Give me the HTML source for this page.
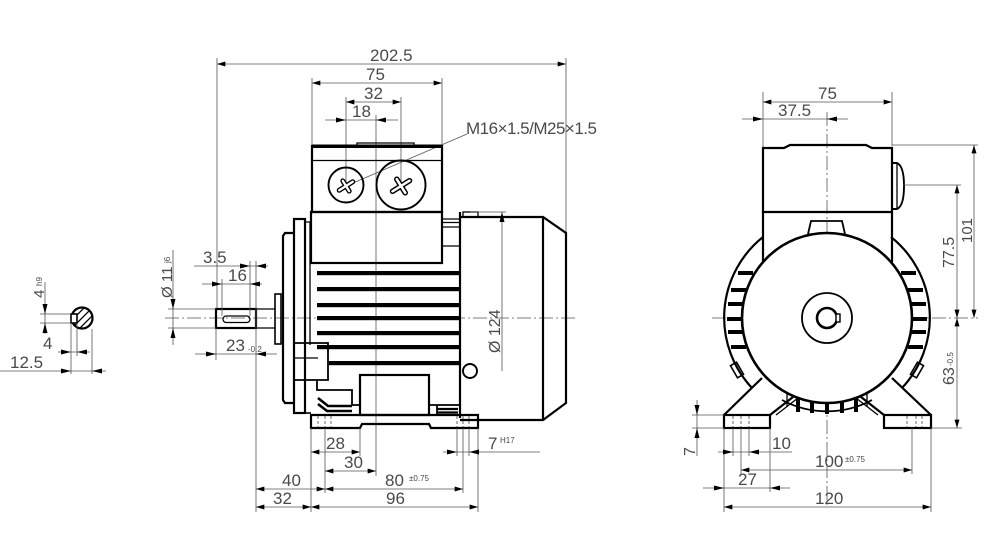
<!DOCTYPE html>
<html>
<head>
<meta charset="utf-8">
<style>
html,body{margin:0;padding:0;background:#fff;}
svg{display:block;}
.o{stroke:#000;stroke-width:2.2;fill:none;stroke-linejoin:miter;}
.ow{stroke:#000;stroke-width:2.2;fill:#fff;}
.t{stroke:#000;stroke-width:1.3;fill:none;}
.d{stroke:#555;stroke-width:0.8;fill:none;}
.c{stroke:#555;stroke-width:0.8;fill:none;stroke-dasharray:14 3 2 3;}
.h{stroke:#444;stroke-width:0.8;fill:none;stroke-dasharray:3 2;}
text{font-family:"Liberation Sans",sans-serif;font-size:17px;fill:#4a4a4a;}
.s{font-size:8px;}
.ar{fill:#000;stroke:none;}
.fin{fill:#000;stroke:none;}
</style>
</head>
<body>
<svg width="999" height="549" viewBox="0 0 999 549" xmlns="http://www.w3.org/2000/svg">
<defs>
<marker id="a" viewBox="0 0 10 6" refX="10" refY="3" markerWidth="10" markerHeight="5" markerUnits="userSpaceOnUse" orient="auto-start-reverse"><path d="M0,0 L10,3 L0,6z" fill="#000"/></marker>
<clipPath id="cc"><circle cx="82" cy="318" r="10"/></clipPath>
</defs>

<!-- ============ LEFT SECTION VIEW ============ -->
<g clip-path="url(#cc)">
<path class="t" d="M70,330 L94,306 M74,334 L98,310 M66,326 L90,302 M78,338 L102,314"/>
</g>
<circle class="o" cx="82" cy="318" r="10.5"/>
<rect x="71" y="314" width="6" height="9" fill="#fff" stroke="#000" stroke-width="1.6"/>
<path class="d" d="M40,314 H71 M40,323 H71 M45,282 V334"/>
<polygon class="ar" points="45,314 42.5,304 47.5,304"/>
<polygon class="ar" points="45,323 42.5,333 47.5,333"/>
<text transform="translate(44,298) rotate(-90)" style="font-size:15px">4</text>
<text transform="translate(42,286) rotate(-90)" class="s">h9</text>
<path class="d" d="M71,323 V374 M77,323 V356 M92,329 V374"/>
<path class="d" d="M58,352 H90"/>
<polygon class="ar" points="71,352 61,349.5 61,354.5"/>
<polygon class="ar" points="77,352 87,349.5 87,354.5"/>
<text x="43" y="349">4</text>
<path class="d" d="M0,371 H106"/>
<polygon class="ar" points="71,371 61,368.5 61,373.5"/>
<polygon class="ar" points="92,371 102,368.5 102,373.5"/>
<text x="10" y="368">12.5</text>

<!-- ============ CENTER VIEW ============ -->
<!-- centerlines -->
<path class="c" d="M165,318 H578"/>
<path class="d" d="M376,115 V476"/>

<!-- top dims -->
<path class="d" d="M217,64 H566" marker-start="url(#a)" marker-end="url(#a)"/>
<text x="370" y="61">202.5</text>
<path class="d" d="M217,58 V309 M566,58 V233"/>
<path class="d" d="M312,83 H442" marker-start="url(#a)" marker-end="url(#a)"/>
<text x="366" y="80">75</text>
<path class="d" d="M312,78 V145 M442,78 V145"/>
<path class="d" d="M346,102 H401" marker-start="url(#a)" marker-end="url(#a)"/>
<text x="364" y="99">32</text>
<path class="d" d="M346,97 V185 M401,97 V185"/>
<path class="d" d="M325,120 H398"/>
<polygon class="ar" points="346,120 336,117.5 336,122.5"/>
<polygon class="ar" points="376,120 386,117.5 386,122.5"/>
<text x="352" y="117">18</text>
<text x="466" y="134" textLength="131">M16×1.5/M25×1.5</text>
<path class="d" d="M467,134 L346,186"/>

<!-- terminal box -->
<rect class="o" x="312" y="146" width="130" height="66"/>
<rect x="312" y="144.5" width="130" height="3.5" fill="#000"/>
<path class="t" d="M357,145 V143 H414 V145"/>
<path class="t" d="M312,160.5 H442"/>
<rect class="o" x="311" y="212" width="131" height="51"/>
<circle class="o" cx="346" cy="185" r="17.5" style="stroke-width:1.9"/>
<circle class="o" cx="401" cy="185" r="24.5" style="stroke-width:1.9"/>
<g transform="translate(346,186) rotate(-32)">
<path d="M-8,0 H8 M0,-6 V6" stroke="#000" stroke-width="5" stroke-linecap="round" fill="none"/>
<path d="M-8,0 H8 M0,-6 V6" stroke="#fff" stroke-width="2.3" stroke-linecap="round" fill="none"/>
</g>
<g transform="translate(401,186) rotate(-32)">
<path d="M-10,0 H10 M0,-8 V8" stroke="#000" stroke-width="5.5" stroke-linecap="round" fill="none"/>
<path d="M-10,0 H10 M0,-8 V8" stroke="#fff" stroke-width="2.6" stroke-linecap="round" fill="none"/>
</g>
<path class="t" d="M442,219 H460 M442,222.5 H460 M442,227 H460 M442,246 H460"/>

<!-- flange -->
<path class="o" d="M294,233 H285 L283,236 V400 L285,403 H294"/>
<rect class="o" x="294" y="219" width="11" height="194"/>
<path class="t" d="M305,222 H310 V345"/>
<!-- shaft -->
<rect class="o" x="216" y="309" width="40" height="19"/>
<rect class="t" x="223" y="316" width="27" height="6.5" rx="3.2"/>
<path class="t" d="M256,309 H275 M256,328 H275"/>
<rect class="t" x="275" y="294" width="6" height="50" style="stroke-width:1.6"/>

<!-- fins -->
<rect class="fin" x="317" y="271" width="143" height="4.2"/>
<rect class="fin" x="317" y="287" width="143" height="4.2"/>
<rect class="fin" x="317" y="303" width="143" height="4.2"/>
<rect class="fin" x="317" y="316" width="143" height="4.2"/>
<rect class="fin" x="317" y="331" width="143" height="4.2"/>
<rect class="fin" x="317" y="345" width="143" height="4.2"/>
<rect class="fin" x="329" y="361" width="131" height="4.2"/>
<!-- lower left bracket -->
<path class="o" d="M295,343 H328 V380 H295" style="stroke-width:1.8"/>
<path class="t" d="M295,358 H318"/>
<path class="o" d="M317,380 V390 H352 V405 H360" style="stroke-width:1.8"/>
<path d="M318,398 L328,406 H352 M318,404 L327,411 H352" stroke="#000" stroke-width="2.6" fill="none"/>
<path class="o" d="M305,413 H311" style="stroke-width:1.6"/>
<!-- foot block -->
<rect class="o" x="360" y="375" width="69" height="40"/>
<path class="o" d="M429,405 H437 V415 M437,405 H460" style="stroke-width:1.8"/>
<path d="M437,409 H458 M437,412.5 H458" stroke="#000" stroke-width="2.2"/>
<!-- base plate -->
<path class="o" d="M311,415 H478 V428 H431 L429,424 H362 L360,428 H311 Z"/>
<path class="h" d="M318,416 V427 M325,416 V427 M331,416 V427 M457,416 V427 M463,416 V427 M469,416 V427"/>
<path class="d" d="M478,420 H545"/>

<!-- frame right edge & end cap -->
<path class="o" d="M460,212 V418"/>
<path class="o" d="M460,217 H543 L566,233 V403 L543,420 H460"/>
<path class="o" d="M543,217 V420"/>
<rect class="t" x="463" y="212" width="15" height="5"/>
<circle class="o" cx="470" cy="371" r="7" style="stroke-width:1.9"/>
<!-- Ø124 -->
<path class="d" d="M470,212 H506 M502,212 V371"/>
<polygon class="ar" points="502,212 499.5,222 504.5,222"/>
<text transform="translate(500,353) rotate(-90)" style="font-size:16px">Ø 124</text>

<!-- shaft dims -->
<path class="d" d="M168,309 H216 M168,328 H216 M173,250 V345"/>
<polygon class="ar" points="173,309 170.5,299 175.5,299"/>
<polygon class="ar" points="173,328 170.5,338 175.5,338"/>
<text transform="translate(172,298) rotate(-90)" style="font-size:15px">Ø 11</text>
<text transform="translate(170,263) rotate(-90)" class="s">j6</text>
<path class="d" d="M194,266 H268"/>
<polygon class="ar" points="250,266 240,263.5 240,268.5"/>
<polygon class="ar" points="256,266 266,263.5 266,268.5"/>
<text x="203" y="263">3.5</text>
<path class="d" d="M250,261 V316 M256,261 V512"/>
<path class="d" d="M202,284 H262"/>
<polygon class="ar" points="222,284 212,281.5 212,286.5"/>
<polygon class="ar" points="250,284 260,281.5 260,286.5"/>
<text x="228" y="281">16</text>
<path class="d" d="M222,279 V316"/>
<path class="d" d="M195,354 H277"/>
<polygon class="ar" points="216,354 206,351.5 206,356.5"/>
<polygon class="ar" points="256,354 266,351.5 266,356.5"/>
<text x="226" y="351">23</text>
<text x="248" y="352" class="s">-0.2</text>
<path class="d" d="M216,328 V360"/>

<!-- bottom dims -->
<path class="d" d="M311,428 V512 M360,428 V456 M325,428 V493 M463,428 V493 M478,428 V512 M457,428 V456 M469,428 V456"/>
<path class="d" d="M311,452 H360" marker-start="url(#a)" marker-end="url(#a)"/>
<text x="326" y="449">28</text>
<path class="d" d="M325,471 H376" marker-start="url(#a)" marker-end="url(#a)"/>
<text x="344" y="468">30</text>
<path class="d" d="M256,489 H325" marker-start="url(#a)" marker-end="url(#a)"/>
<text x="282" y="486">40</text>
<path class="d" d="M325,489 H463" marker-start="url(#a)" marker-end="url(#a)"/>
<text x="385" y="486">80</text>
<text x="409" y="481" class="s">±0.75</text>
<path class="d" d="M256,507 H311" marker-start="url(#a)" marker-end="url(#a)"/>
<text x="273" y="504">32</text>
<path class="d" d="M311,507 H478" marker-start="url(#a)" marker-end="url(#a)"/>
<text x="386" y="504">96</text>
<path class="d" d="M443,452 H540"/>
<polygon class="ar" points="457,452 447,449.5 447,454.5"/>
<polygon class="ar" points="469,452 479,449.5 479,454.5"/>
<text x="488" y="449">7</text>
<text x="500" y="443" class="s">H17</text>

<!-- ============ RIGHT VIEW ============ -->
<path class="c" d="M712,318 H978"/>
<path class="c" d="M827,112 V505"/>
<!-- top dims -->
<path class="d" d="M763,102 H892" marker-start="url(#a)" marker-end="url(#a)"/>
<text x="818" y="99">75</text>
<path class="d" d="M763,92 V148 M892,92 V146"/>
<path class="d" d="M742,119 H848"/>
<polygon class="ar" points="763,119 753,116.5 753,121.5"/>
<polygon class="ar" points="827,119 837,116.5 837,121.5"/>
<text x="778" y="116">37.5</text>
<!-- terminal box -->
<path class="o" d="M763,212 V148 H784 L790,145 H866 L872,148 H892 V212 Z"/>
<path class="o" d="M763,212 V262 M892,212 V262"/>
<path class="o" d="M892,163 H897 Q904,166 904,186 Q904,206 897,209 H892" style="stroke-width:1.9"/>
<path class="t" d="M897,163 V209"/>
<path class="o" d="M808,234 L811,221 H842 L845,234" style="stroke-width:1.8"/>
<!-- outer arcs -->
<path class="o" d="M763,237 A103,103 0 0,0 752,388"/>
<path class="o" d="M891,237 A103,103 0 0,1 902,388"/>
<!-- side fins -->
<g class="fin">
<rect x="738" y="271" width="15" height="4"/>
<rect x="731" y="288" width="15" height="4"/>
<rect x="728" y="302" width="15" height="4"/>
<rect x="727" y="317" width="15" height="4"/>
<rect x="728" y="330" width="15" height="4"/>
<rect x="731" y="345" width="15" height="4"/>
<rect x="901" y="271" width="15" height="4"/>
<rect x="908" y="288" width="15" height="4"/>
<rect x="911" y="302" width="15" height="4"/>
<rect x="912" y="317" width="15" height="4"/>
<rect x="911" y="330" width="15" height="4"/>
<rect x="908" y="345" width="15" height="4"/>
</g>
<!-- main circle -->
<circle cx="827" cy="318" r="85" fill="#fff" stroke="#000" stroke-width="2.6"/>
<circle class="o" cx="827" cy="318" r="25" style="stroke-width:1.8"/>
<circle class="o" cx="827" cy="318" r="10" style="stroke-width:2.6"/>
<rect x="836" y="314" width="4" height="8" fill="#fff" stroke="#000" stroke-width="1.4"/>
<!-- tabs -->
<rect class="o" x="-3.5" y="-7" width="7" height="14" transform="translate(737,370) rotate(-30)" style="stroke-width:1.6"/>
<rect class="o" x="-3.5" y="-7" width="7" height="14" transform="translate(917,370) rotate(30)" style="stroke-width:1.6"/>
<!-- bottom fins -->
<path class="o" d="M782,400 A95,95 0 0,0 872,400" style="stroke-width:1.8"/>
<g class="fin">
<rect x="796" y="398" width="4" height="14"/>
<rect x="810" y="401" width="4" height="12"/>
<rect x="825" y="403" width="4" height="11"/>
<rect x="840" y="401" width="4" height="12"/>
<rect x="854" y="398" width="4" height="14"/>
</g>
<path class="t" d="M787,394 V407 M867,394 V407"/>
<!-- feet -->
<rect class="o" x="724" y="415" width="46" height="13"/>
<rect class="o" x="884" y="415" width="47" height="13"/>
<path class="o" d="M724,415 L762,378 M770,415 L793,397 M931,415 L892,378 M884,415 L861,397"/>
<path class="t" d="M776,415 L798,398 M878,415 L856,398"/>
<path class="h" d="M733,416 V427 M741,416 V427 M749,416 V427 M907,416 V427 M916,416 V427 M922,416 V427"/>

<!-- right dims -->
<path class="d" d="M892,145 H978"/>
<path class="d" d="M974,145 V318" marker-start="url(#a)" marker-end="url(#a)"/>
<text transform="translate(972,243) rotate(-90)" style="font-size:15px">101</text>
<path class="d" d="M903,185 H961"/>
<path class="d" d="M957,185 V318" marker-start="url(#a)" marker-end="url(#a)"/>
<text transform="translate(954,268) rotate(-90)" style="font-size:16px">77.5</text>
<path class="d" d="M957,318 V428" marker-start="url(#a)" marker-end="url(#a)"/>
<path class="d" d="M931,428 H962"/>
<text transform="translate(954,385) rotate(-90)" style="font-size:16px">63</text>
<text transform="translate(953,366) rotate(-90)" class="s">-0.5</text>

<path class="d" d="M692,415 H724 M692,428 H724 M697,400 V456"/>
<polygon class="ar" points="697,415 694.5,405 699.5,405"/>
<polygon class="ar" points="697,428 694.5,438 699.5,438"/>
<text transform="translate(695,456) rotate(-90)" style="font-size:16px">7</text>
<path class="d" d="M733,428 V456 M749,428 V456 M741,428 V474 M770,428 V492 M724,428 V512 M931,428 V512 M912,428 V474"/>
<path class="d" d="M718,452 H792"/>
<polygon class="ar" points="733,452 723,449.5 723,454.5"/>
<polygon class="ar" points="749,452 759,449.5 759,454.5"/>
<text x="772" y="449">10</text>
<path class="d" d="M741,470 H912" marker-start="url(#a)" marker-end="url(#a)"/>
<text x="815" y="467">100</text>
<text x="845" y="462" class="s">±0.75</text>
<path class="d" d="M703,488 H790"/>
<polygon class="ar" points="724,488 714,485.5 714,490.5"/>
<polygon class="ar" points="770,488 780,485.5 780,490.5"/>
<text x="738" y="485">27</text>
<path class="d" d="M724,507 H931" marker-start="url(#a)" marker-end="url(#a)"/>
<text x="815" y="504">120</text>
</svg>
</body>
</html>
